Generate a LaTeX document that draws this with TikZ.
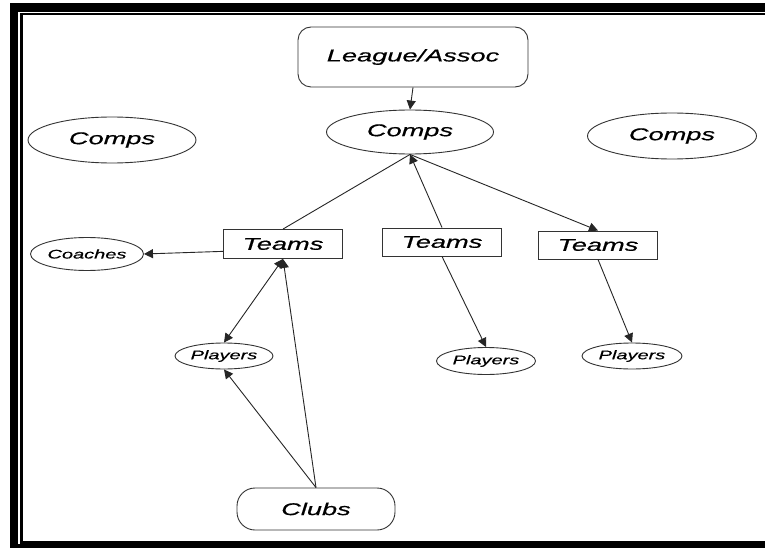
\documentclass[tikz,border=0pt]{standalone}
\usepackage{fontspec}
\newfontfamily\dfont[FakeStretch=1.6,FakeBold=0.6]{Liberation Sans}
\usetikzlibrary{shapes.geometric,arrows.meta}
\begin{document}
\begin{tikzpicture}[x=1pt,y=-1pt,
  shapeline/.style={draw=black!80,line width=0.9pt,fill=white,inner sep=0pt},
  oval/.style={shapeline,ellipse},
  box/.style={shapeline,rectangle},
  big/.style={font=\dfont\itshape\fontsize{17}{20}\selectfont},
  small/.style={font=\dfont\itshape\fontsize{12.5}{14}\selectfont},
  conn/.style={draw=black!85,line width=0.9pt},
  tip/.style={-{Triangle[length=9pt,width=9pt]}},
  frameband/.style={fill=black}]
\useasboundingbox (0,0) rectangle (765,548);
\fill[white] (0,0) rectangle (765,548);
% frame
\fill[frameband] (10,3) rectangle (765,12);
\fill[frameband] (10,3) rectangle (18,548);
\fill[frameband] (10,544) rectangle (765,548);
\fill[frameband] (20,13) rectangle (765,15.5);
\fill[frameband] (20,13) rectangle (22.5,543.5);
\fill[frameband] (20,541) rectangle (765,543.5);
% nodes
\node[shapeline,rounded corners=13pt,minimum width=230pt,minimum height=60pt,big] (L) at (413,57) {League/Assoc};
\node[oval,minimum width=167pt,minimum height=44pt,big] (C0) at (410,132) {Comps};
\node[oval,minimum width=168pt,minimum height=46pt,big] (CL) at (112,140) {Comps};
\node[oval,minimum width=169pt,minimum height=46pt,big] (CR) at (672,136) {Comps};
\node[box,minimum width=119pt,minimum height=29pt,big] (T1) at (283,244) {Teams};
\node[box,minimum width=119pt,minimum height=28pt,big] (T2) at (442,242) {Teams};
\node[box,minimum width=119pt,minimum height=28pt,big] (T3) at (598,245) {Teams};
\node[oval,minimum width=113pt,minimum height=33pt,small] (Co) at (87,254) {Coaches};
\node[oval,minimum width=98pt,minimum height=26pt,small] (P1) at (224,356) {Players};
\node[oval,minimum width=99pt,minimum height=27pt,small] (P2) at (486,361) {Players};
\node[oval,minimum width=100pt,minimum height=26pt,small] (P3) at (632,356) {Players};
\node[shapeline,rounded corners=18pt,minimum width=158pt,minimum height=42pt,big] (Cl) at (316,509) {Clubs};
% connectors
\draw[conn,tip] (L.south) -- (C0.north);
\draw[conn] (T1.north) -- (C0.south);
\draw[conn,tip] (T2.north) -- (C0.south);
\draw[conn,tip] (C0.south) -- (T3.north);
\draw[conn,tip] (T2.south) -- (P2.north);
\draw[conn,tip] (T3.south) -- (P3.north);
\draw[conn,tip] (T1.187) -- (Co.east);
\draw[conn,{Triangle[length=9pt,width=9pt]}-{Triangle[length=9pt,width=9pt]}] (T1.south) -- (P1.north);
\draw[conn,tip] (Cl.north) -- (T1.south);
\draw[conn,tip] (Cl.north) -- (P1.south);
\end{tikzpicture}
\end{document}
